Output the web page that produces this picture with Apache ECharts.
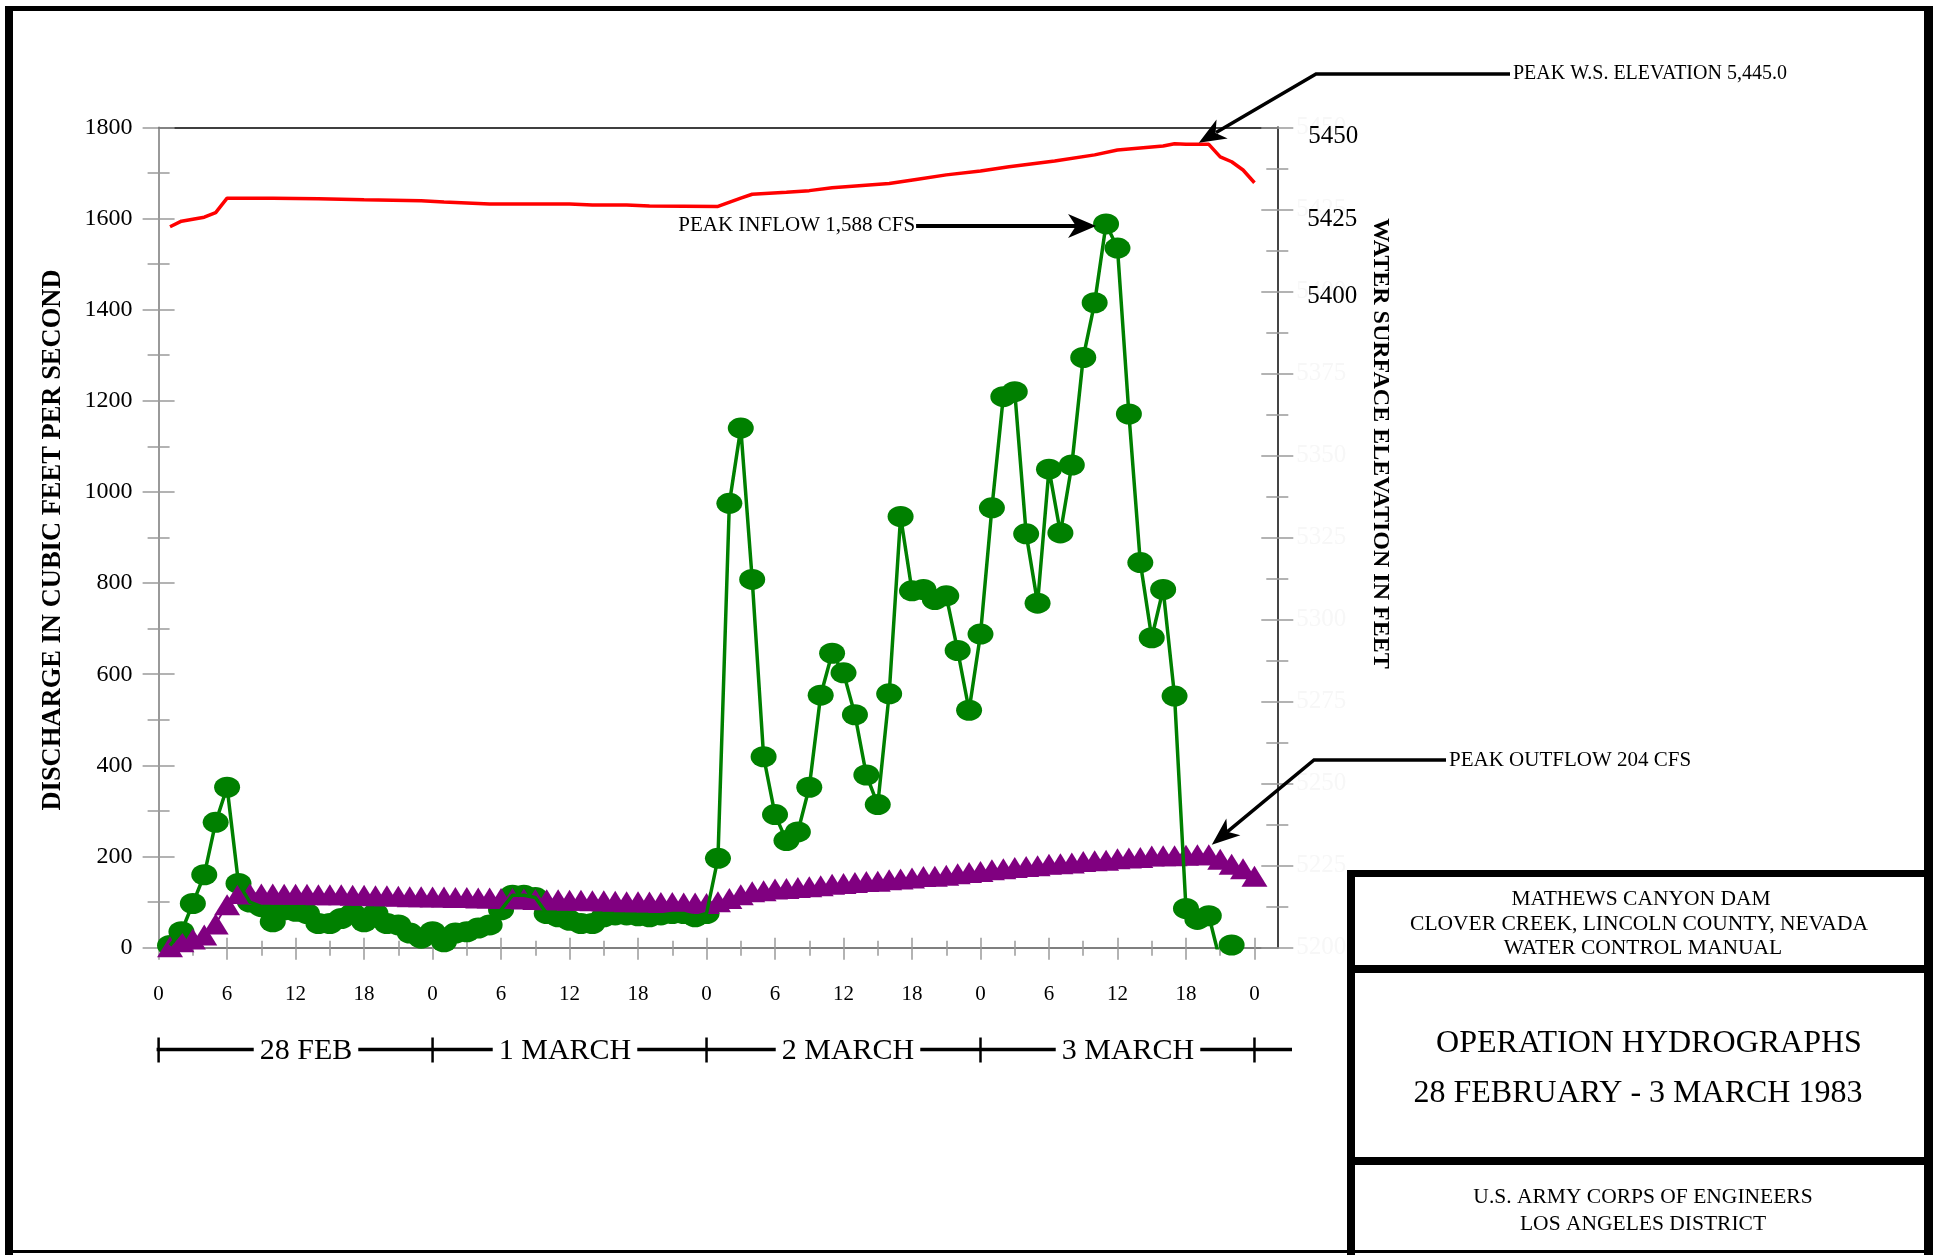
<!DOCTYPE html>
<html>
<head>
<meta charset="utf-8">
<title>Mathews Canyon Dam - Operation Hydrographs</title>
<script src="https://cdn.jsdelivr.net/npm/echarts@6/dist/echarts.min.js"></script>
<style>
  html, body { margin: 0; padding: 0; background: #fff; }
  #chart { width: 1938px; height: 1255px; }
</style>
</head>
<body>
<div id="chart"></div>
<script>
// Hours since 00:00 on 28 February 1983
const hours = [
  1, 2, 3, 4, 5, 6, 7, 8, 9, 10, 11, 12, 13, 14, 15, 16, 17, 18, 19, 20, 21, 22, 23, 24,
  25, 26, 27, 28, 29, 30, 31, 32, 33, 34, 35, 36, 37, 38, 39, 40, 41, 42, 43, 44, 45, 46, 47, 48,
  49, 50, 51, 52, 53, 54, 55, 56, 57, 58, 59, 60, 61, 62, 63, 64, 65, 66, 67, 68, 69, 70, 71, 72,
  73, 74, 75, 76, 77, 78, 79, 80, 81, 82, 83, 84, 85, 86, 87, 88, 89, 90, 91, 92, 93, 94, 95, 96
];

// Hourly inflow (cfs), hours 1..94
const inflowCfs = [
  5, 35, 97, 160, 275, 352, 141, 100, 90, 57,
  83, 80, 75, 53, 53, 64, 75, 57, 75, 53,
  50, 32, 21, 35, 13, 32, 35, 43, 50, 83,
  115, 115, 110, 75, 68, 60, 53, 53, 68, 72,
  72, 70, 68, 72, 75, 75, 68, 75, 196, 975,
  1140, 808, 419, 292, 235, 254, 352, 554, 646, 603,
  511, 379, 314, 557, 946, 783, 786, 764, 772, 652,
  521, 688, 965, 1209, 1220, 908, 756, 1050, 910, 1059,
  1295, 1415, 1588, 1535, 1171, 845, 680, 786, 552, 86,
  62, 70, -30, 6
];

// Hourly outflow (cfs), hours 1..96
const outflowCfs = [
  2, 13, 19, 28, 52, 94, 119, 118, 118, 118,
  117, 117, 117, 116, 116, 116, 115, 115, 114, 114,
  113, 112, 112, 111, 111, 110, 110, 109, 109, 108,
  108, 107, 106, 105, 105, 104, 104, 103, 103, 102,
  101, 101, 100, 99, 99, 98, 98, 97, 101, 108,
  116, 123, 125, 129, 130, 132, 134, 136, 139, 141,
  143, 145, 146, 149, 151, 153, 156, 157, 159, 162,
  165, 167, 171, 173, 176, 178, 180, 183, 184, 186,
  189, 191, 192, 195, 197, 198, 201, 202, 202, 203,
  204, 204, 194, 183, 173, 157
];

// Water surface elevation (ft): [hour, elevation]
const elevationFt = [
  [1, 5419.7], [2, 5421.4], [4, 5422.6], [5, 5424.0], [6, 5428.4], [10, 5428.4],
  [14, 5428.2], [18, 5427.9], [23, 5427.6], [25, 5427.2], [29, 5426.6], [36, 5426.6],
  [38, 5426.3], [41, 5426.3], [43, 5426.0], [49, 5425.9], [51, 5428.4], [52, 5429.6],
  [55, 5430.2], [57, 5430.7], [59, 5431.6], [64, 5432.9], [66.5, 5434.2], [69, 5435.5],
  [72, 5436.7], [74.5, 5438.0], [78.5, 5439.7], [82, 5441.6], [84, 5443.1], [88, 5444.3],
  [89, 5445.0], [90, 5444.8], [92, 5444.8], [93, 5441.0], [94, 5439.5], [95, 5437.0],
  [96, 5433.1]
];

// Axis ticks
const hourTicks = [0, 6, 12, 18, 24, 30, 36, 42, 48, 54, 60, 66, 72, 78, 84, 90, 96];
const hourMinorTicks = [3, 9, 15, 21, 27, 33, 39, 45, 51, 57, 63, 69, 75, 81, 87, 93];
const dayBounds = [0, 24, 48, 72, 96];
const dayLabels = ['28 FEB', '1 MARCH', '2 MARCH', '3 MARCH'];
const elevationDarkLabels = ['5450', '5425', '5400'];

// Peak annotations
const peakInflow = { hour: 83, cfs: 1588, text: 'PEAK INFLOW 1,588 CFS' };
const peakOutflow = { hour: 92, cfs: 204, text: 'PEAK OUTFLOW 204 CFS' };
const peakStage = { hour: 91.3, ft: 5445.0, text: 'PEAK W.S. ELEVATION 5,445.0' };

const titleLines = {
  project: ['MATHEWS CANYON DAM', 'CLOVER CREEK, LINCOLN COUNTY, NEVADA', 'WATER CONTROL MANUAL'],
  title: ['OPERATION HYDROGRAPHS', '28 FEBRUARY - 3 MARCH 1983'],
  agency: ['U.S. ARMY CORPS OF ENGINEERS', 'LOS ANGELES DISTRICT']
};

const SERIF = '"Liberation Serif", "Times New Roman", serif';
const TICK = { color: '#9a9a9a', width: 1.5 };
const plain = v => String(v);

function xAxisBase(extra) {
  return Object.assign({
    type: 'value', gridIndex: 0, position: 'bottom', min: 0, max: 98,
    splitLine: { show: false },
    axisLine: { show: false, onZero: false },
    axisLabel: { show: false },
    axisTick: { show: false }
  }, extra);
}

function yAxisBase(extra) {
  return Object.assign({
    type: 'value', gridIndex: 0,
    splitLine: { show: false },
    axisLine: { show: false, onZero: false },
    axisLabel: { show: false }
  }, extra);
}

const option = {
  animation: false,
  backgroundColor: '#ffffff',
  grid: {
    left: 158.6, top: 127.3, right: 660.7, bottom: 307.3,
    containLabel: false, outerBoundsMode: 'none'
  },
  xAxis: [
    xAxisBase({
      axisLine: { show: true, onZero: false, lineStyle: { color: '#555', width: 1.5 } },
      axisTick: { show: true, customValues: hourTicks, length: 12, lineStyle: TICK },
      axisLabel: {
        show: true, customValues: hourTicks, margin: 36,
        formatter: v => String(v % 24),
        fontFamily: SERIF, fontSize: 21, color: '#000'
      }
    }),
    xAxisBase({ axisTick: { show: true, inside: true, customValues: hourTicks, length: 10, lineStyle: TICK } }),
    xAxisBase({ axisTick: { show: true, customValues: hourMinorTicks, length: 8, lineStyle: TICK } }),
    xAxisBase({ axisTick: { show: true, inside: true, customValues: hourMinorTicks, length: 7, lineStyle: TICK } }),
    xAxisBase({ position: 'top', axisLine: { show: true, onZero: false, lineStyle: { color: '#000', width: 1.5 } } })
  ],
  yAxis: [
    yAxisBase({
      position: 'left', min: 0, max: 1800, interval: 200,
      axisLine: { show: true, onZero: false, lineStyle: { color: '#777', width: 1.5 } },
      axisTick: { show: true, length: 16, lineStyle: TICK },
      minorTick: { show: true, splitNumber: 2, length: 11, lineStyle: TICK },
      axisLabel: { show: true, margin: 26, formatter: plain, fontFamily: SERIF, fontSize: 24, color: '#000' }
    }),
    yAxisBase({
      position: 'left', min: 0, max: 1800, interval: 200,
      axisTick: { show: true, inside: true, length: 16, lineStyle: TICK },
      minorTick: { show: true, splitNumber: 2, length: 11, lineStyle: TICK }
    }),
    yAxisBase({
      position: 'right', min: 5200, max: 5450, interval: 25,
      axisLine: { show: true, onZero: false, lineStyle: { color: '#444', width: 2 } },
      axisTick: { show: true, length: 16, lineStyle: TICK },
      minorTick: { show: true, splitNumber: 2, length: 11, lineStyle: TICK },
      axisLabel: { show: true, margin: 19, formatter: plain, fontFamily: SERIF, fontSize: 25, color: '#f7f7f7' }
    }),
    yAxisBase({
      position: 'right', min: 5200, max: 5450, interval: 25,
      axisTick: { show: true, inside: true, length: 16, lineStyle: TICK },
      minorTick: { show: true, splitNumber: 2, length: 11, lineStyle: TICK }
    })
  ],
  series: [
    {
      name: 'Inflow points', type: 'line', xAxisIndex: 0, yAxisIndex: 0, z: 2,
      data: inflowCfs.map((v, i) => [hours[i], v]),
      symbol: 'circle', symbolSize: [26, 21], showAllSymbol: true,
      itemStyle: { color: '#008000' },
      lineStyle: { width: 0, opacity: 0 },
      clip: true
    },
    {
      name: 'Outflow', type: 'line', xAxisIndex: 0, yAxisIndex: 0, z: 3,
      data: outflowCfs.map((v, i) => [hours[i], v]),
      symbol: 'triangle', symbolSize: [26, 21], showAllSymbol: true,
      itemStyle: { color: '#800080' },
      lineStyle: { color: '#800080', width: 2 },
      clip: true
    },
    {
      name: 'Inflow', type: 'line', xAxisIndex: 0, yAxisIndex: 0, z: 4,
      data: inflowCfs.map((v, i) => [hours[i], v]),
      showSymbol: false,
      lineStyle: { color: '#008000', width: 3.5 },
      clip: true
    },
    {
      name: 'Water surface elevation', type: 'line', xAxisIndex: 0, yAxisIndex: 2, z: 5,
      data: elevationFt,
      showSymbol: false,
      lineStyle: { color: '#ff0000', width: 3.5 },
      clip: true
    }
  ]
};

const chart = echarts.init(document.getElementById('chart'), null, { renderer: 'canvas' });
chart.setOption(option);

// ---- annotation layer -------------------------------------------------
const toPx = (seriesIndex, x, y) => chart.convertToPixel({ seriesIndex }, [x, y]);

function text(str, x, y, size, o) {
  o = o || {};
  const align = o.align || 'center';
  const style = {
    text: str, x: 0, y: 0, fill: o.fill || '#000',
    fontFamily: SERIF, fontSize: size, fontWeight: o.bold ? 'bold' : 'normal',
    align: align, verticalAlign: 'middle',
    textAlign: align, textVerticalAlign: 'middle'
  };
  if (o.bg) { style.backgroundColor = o.bg; style.padding = o.pad || [0, 0]; }
  return { type: 'text', x: x, y: y, rotation: o.rotation || 0, z: 100, silent: true, style: style };
}
function rect(x, y, w, h) {
  return { type: 'rect', z: 100, silent: true, shape: { x: x, y: y, width: w, height: h }, style: { fill: '#000' } };
}
function poly(points, width) {
  return { type: 'polyline', z: 100, silent: true, shape: { points: points },
    style: { stroke: '#000', lineWidth: width || 3.5, fill: null } };
}
function seg(x1, y1, x2, y2, width) {
  return { type: 'line', z: 100, silent: true, shape: { x1: x1, y1: y1, x2: x2, y2: y2 },
    style: { stroke: '#000', lineWidth: width || 3 } };
}
function arrowHead(tip, from, len, half) {
  const dx = from[0] - tip[0], dy = from[1] - tip[1];
  const d = Math.hypot(dx, dy), ux = dx / d, uy = dy / d, nx = -uy, ny = ux;
  return {
    type: 'polygon', z: 101, silent: true,
    shape: { points: [
      [tip[0], tip[1]],
      [tip[0] + ux * len + nx * half, tip[1] + uy * len + ny * half],
      [tip[0] + ux * len * 0.72, tip[1] + uy * len * 0.72],
      [tip[0] + ux * len - nx * half, tip[1] + uy * len - ny * half]
    ] },
    style: { fill: '#000' }
  };
}

const g = [];

// outer frame
g.push(rect(5, 6, 1928, 5));
g.push(rect(5, 6, 8, 1249));
g.push(rect(1924, 6, 9, 1249));
g.push(rect(5, 1250, 1928, 3));

// title block
g.push(rect(1347, 870, 586, 7));
g.push(rect(1347, 870, 8, 385));
g.push(rect(1347, 965, 586, 8));
g.push(rect(1347, 1157, 586, 8));
g.push(text(titleLines.project[0], 1641, 899, 21.5));
g.push(text(titleLines.project[1], 1639, 924, 21.5));
g.push(text(titleLines.project[2], 1643, 948, 21.5));
g.push(text(titleLines.title[0], 1649, 1044, 32));
g.push(text(titleLines.title[1], 1638, 1094, 32));
g.push(text(titleLines.agency[0], 1643, 1197, 21.5));
g.push(text(titleLines.agency[1], 1643, 1224, 21.5));

// axis titles
g.push(text('DISCHARGE IN CUBIC FEET PER SECOND', 53.5, 540, 26.5, { bold: true, rotation: Math.PI / 2 }));
g.push(text('WATER SURFACE ELEVATION IN FEET', 1380.5, 443.5, 24, { bold: true, rotation: -Math.PI / 2 }));

// dark elevation labels at the top of the right scale
const darkOffsets = [[31, 8.7], [30, 9.7], [30, 4.6]];
elevationDarkLabels.forEach((lab, i) => {
  const p = toPx(3, 0, Number(lab));
  const axisX = toPx(3, 98, 5200)[0];
  g.push(text(lab, axisX + darkOffsets[i][0], p[1] + darkOffsets[i][1], 25, { align: 'left' }));
});

// date band under the hour axis
const bandY = 1049.5;
const x0 = toPx(0, 0, 0)[0];
g.push(seg(x0 - 2, bandY, 1292, bandY, 3.5));
dayBounds.forEach(h => {
  const x = toPx(0, h, 0)[0];
  g.push(seg(x, bandY - 12, x, bandY + 13, 2.5));
});
const dayLabelX = [306, 565, 848, 1128];
dayLabels.forEach((lab, i) => {
  g.push(text(lab, dayLabelX[i], bandY + 2, 30, { bg: '#fff', pad: [2, 6] }));
});

// peak inflow
{
  const p = toPx(0, peakInflow.hour, peakInflow.cfs);
  const y = p[1] + 2;
  const tip = [p[0] - 10, y];
  g.push(text(peakInflow.text, p[0] - 191, y, 21, { align: 'right' }));
  g.push(seg(p[0] - 190, y, tip[0] - 20, y, 4));
  g.push(arrowHead(tip, [p[0] - 190, y], 28, 12));
}

// peak outflow
{
  const p = toPx(1, peakOutflow.hour, peakOutflow.cfs);
  const tip = [p[0] + 3, p[1] - 10];
  const corner = [1314, 760];
  g.push(text(peakOutflow.text, 1449, 760, 21, { align: 'left' }));
  const d = Math.hypot(corner[0] - tip[0], corner[1] - tip[1]);
  const back = [tip[0] + (corner[0] - tip[0]) / d * 20, tip[1] + (corner[1] - tip[1]) / d * 20];
  g.push(poly([[1446, 760], corner, back], 3.5));
  g.push(arrowHead(tip, corner, 28, 11));
}

// peak water surface elevation
{
  const p = toPx(3, peakStage.hour, peakStage.ft);
  const tip = [p[0] - 2, p[1] - 1];
  const corner = [1316, 74];
  g.push(text(peakStage.text, 1513, 74, 20, { align: 'left' }));
  const d = Math.hypot(corner[0] - tip[0], corner[1] - tip[1]);
  const back = [tip[0] + (corner[0] - tip[0]) / d * 20, tip[1] + (corner[1] - tip[1]) / d * 20];
  g.push(poly([[1510, 74], corner, back], 3.5));
  g.push(arrowHead(tip, corner, 27, 11));
}

chart.setOption({ graphic: { elements: g } });
</script>
</body>
</html>
